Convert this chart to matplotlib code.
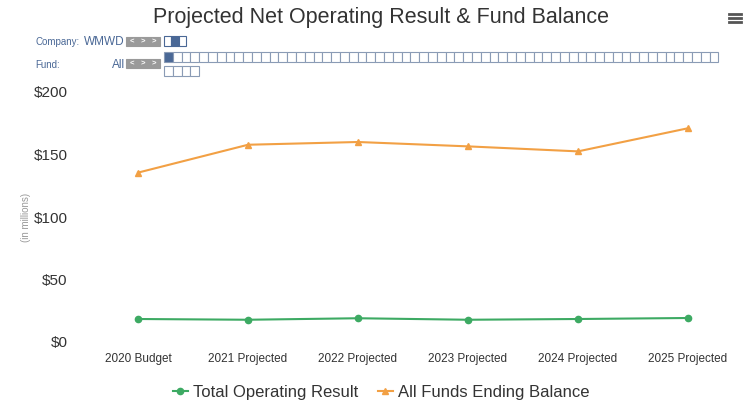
import matplotlib
matplotlib.use("Agg")
import matplotlib.pyplot as plt
import matplotlib.patches as patches
from matplotlib.lines import Line2D

# data
years = ["2020 Budget", "2021 Projected", "2022 Projected",
         "2023 Projected", "2024 Projected", "2025 Projected"]
operating_result = [18.4, 17.8, 19.0, 17.8, 18.4, 19.2]
ending_balance = [135.5, 157.8, 160.0, 156.5, 152.5, 171.0]
y_ticks = [0, 50, 100, 150, 200]

n_companies = 3
n_funds = 67

W, H = 747, 403
GREEN = "#3daa63"
ORANGE = "#f2a044"
NAV_BLUE = "#4a6896"

plt.rcParams["font.family"] = ["Liberation Sans", "DejaVu Sans"]

fig = plt.figure(figsize=(W / 100, H / 100), dpi=100)


def fx(px):
    return px / W


def fy(py):
    return 1 - py / H


def box(x, y, w, h, fc, ec):
    fig.patches.append(patches.Rectangle((fx(x), fy(y + h)), w / W, h / H,
                                         transform=fig.transFigure,
                                         facecolor=fc, edgecolor=ec, lw=0.8))


ax = fig.add_axes([fx(83), fy(342), (743 - 83) / W, (342 - 92) / H])
x = list(range(len(years)))
ax.plot(x, operating_result, color=GREEN, lw=1.5, marker="o", ms=4.5)
ax.plot(x, ending_balance, color=ORANGE, lw=1.5, marker="^", ms=4.5)

ax.set_xlim(-0.5, len(years) - 0.5)
ax.set_ylim(0, 200)
ax.set_xticks(x)
ax.set_xticklabels(years, fontsize=8.5, color="#333333")
ax.set_yticks(y_ticks)
ax.set_yticklabels([f"${v}" for v in y_ticks], fontsize=11, color="#333333")
ax.tick_params(length=0)
ax.tick_params(axis="x", pad=8)
ax.tick_params(axis="y", pad=11)
for s in ax.spines.values():
    s.set_visible(False)
ax.set_ylabel("(in millions)", fontsize=7, color="#999999", labelpad=2)

fig.text(fx(381), fy(18), "Projected Net Operating Result & Fund Balance",
         ha="center", va="center", fontsize=15.5, color="#333333")

# hamburger menu
for dy in (-4, 0, 4):
    fig.add_artist(Line2D([fx(729), fx(741)], [fy(18 + dy)] * 2,
                          color="#555555", lw=2))

# navigator rows
fig.text(fx(35), fy(42), "Company:", ha="left", va="center", fontsize=7, color=NAV_BLUE)
fig.text(fx(125), fy(42), "WMWD", ha="right", va="center", fontsize=8.5, color=NAV_BLUE)
fig.text(fx(35), fy(65), "Fund:", ha="left", va="center", fontsize=7, color=NAV_BLUE)
fig.text(fx(125), fy(65), "All", ha="right", va="center", fontsize=8.5, color=NAV_BLUE)

for yy in (37, 59):
    box(126, yy, 34, 9, "#9a9a9a", "#9a9a9a")
    for i, ch in enumerate(["<", ">", ">"]):
        fig.text(fx(132 + i * 11), fy(yy + 4.5), ch, ha="center", va="center",
                 fontsize=5.5, color="white", fontweight="bold")

bw = 7.4
for i in range(n_companies):
    box(164 + i * bw, 36, bw, 10, NAV_BLUE if i == 1 else "white", NAV_BLUE)

per_row = 63
bw = 8.8
for i in range(n_funds):
    r, c = divmod(i, per_row)
    box(164 + c * bw, 52 + r * 14, bw, 10, NAV_BLUE if i == 0 else "white", "#8a9bb5")

# legend
handles = [Line2D([], [], color=GREEN, lw=1.5, marker="o", ms=4.5),
           Line2D([], [], color=ORANGE, lw=1.5, marker="^", ms=4.5)]
fig.legend(handles, ["Total Operating Result", "All Funds Ending Balance"],
           loc="center", bbox_to_anchor=(fx(381), fy(392)), ncol=2, frameon=False,
           fontsize=12, handlelength=0.9, handletextpad=0.3, columnspacing=1.2,
           labelcolor="#333333")

fig.savefig("out.png", dpi=100, facecolor="white")
